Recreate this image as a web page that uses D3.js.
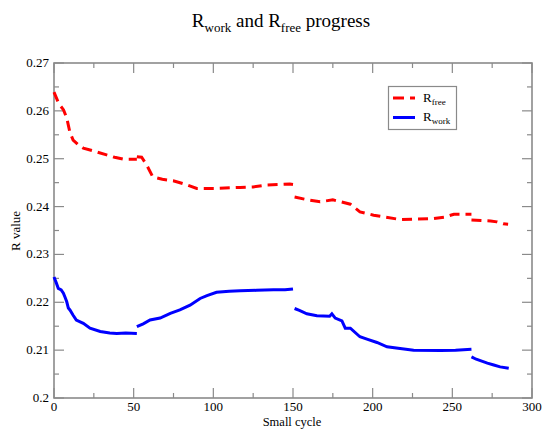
<!DOCTYPE html>
<html><head><meta charset="utf-8">
<script src="https://cdn.jsdelivr.net/npm/d3@7"></script>
<style>body{margin:0;background:#fff}svg{display:block}text{font-family:"Liberation Serif","DejaVu Serif",serif}</style>
</head><body><svg id="c" width="547" height="431"></svg>
<script>
// R_free segments: [cycle, value]
const rfreeSeg1 = [[0,0.2639],[3,0.2615],[6,0.2602],[8,0.2585],[10,0.2555],[12,0.2539],[15,0.2530],[18.4,0.2522],[25,0.2516],[33,0.2508],[38,0.2503],[43.5,0.2499],[52,0.2499]];
const rfreeSeg2 = [[52,0.2504],[55,0.2503],[58,0.2488],[62,0.2462],[68,0.2457],[74.8,0.2454],[82,0.2447],[89.6,0.2438],[102,0.2438],[116.8,0.2440],[125,0.2441],[133.6,0.2445],[148,0.2447],[150,0.2446]];
const rfreeSeg3 = [[151,0.2420],[158,0.2415],[167,0.2410],[175,0.2414],[180,0.2410],[186,0.2405],[192,0.2389],[200.6,0.2382],[208,0.2378],[217,0.2373],[228,0.2374],[238,0.2375],[245,0.2378],[251,0.2384],[262,0.2384]];
const rfreeSeg4 = [[262,0.2372],[268,0.2371],[274,0.2370],[278,0.2368],[282,0.2364],[285,0.2363]];
// R_work segments
const rworkSeg1 = [[0,0.2253],[1.5,0.2240],[2.7,0.2229],[4.5,0.2226],[5.9,0.2219],[7,0.2210],[8,0.2201],[9,0.2188],[10,0.2184],[12,0.2173],[14,0.2163],[18.4,0.2156],[22.6,0.2146],[29,0.2139],[35,0.2136],[39.4,0.2135],[45,0.2136],[52,0.2135]];
const rworkSeg2 = [[52,0.2149],[56,0.2155],[60.3,0.2163],[66.6,0.2167],[73,0.2177],[79,0.2184],[85.4,0.2194],[91.7,0.2208],[96,0.2214],[102,0.2221],[110,0.2223],[116.8,0.2224],[127,0.2225],[137.7,0.2226],[145,0.2226],[150,0.2228]];
const rworkSeg3 = [[151,0.2187],[154,0.2183],[158.7,0.2176],[165,0.2172],[173,0.2171],[174.4,0.2176],[176.5,0.2167],[180.7,0.2161],[182.8,0.2146],[186,0.2146],[192,0.2128],[196.4,0.2123],[202.7,0.2116],[209,0.2107],[216,0.2104],[225.7,0.2100],[242.5,0.2099],[252,0.2100],[262,0.2102]];
const rworkSeg4 = [[262,0.2086],[265,0.2081],[267.6,0.2078],[272,0.2073],[276,0.2069],[280,0.2065],[285.4,0.2062]];
const xTicks = [0,50,100,150,200,250,300];
const xMinorTicks = [25,75,125,175,225,275];
const yTicks = [0.2,0.21,0.22,0.23,0.24,0.25,0.26,0.27];
const yTickLabels = ["0.2","0.21","0.22","0.23","0.24","0.25","0.26","0.27"];
const yMinorTicks = [0.205,0.215,0.225,0.235,0.245,0.255,0.265];

const svg = d3.select("#c");
const L=54,R=532,T=63,B=398;
const x = d3.scaleLinear().domain([0,300]).range([L,R]);
const y = d3.scaleLinear().domain([0.2,0.27]).range([B,T]);
const gray="#8a8a8a";

// ticks (inward) on all four sides
const tk = svg.append("g").attr("stroke",gray).attr("stroke-width",1.2);
xTicks.forEach(v=>{
  tk.append("line").attr("x1",x(v)).attr("x2",x(v)).attr("y1",B).attr("y2",B-10);
  tk.append("line").attr("x1",x(v)).attr("x2",x(v)).attr("y1",T).attr("y2",T+10);
});
xMinorTicks.forEach(v=>{
  tk.append("line").attr("x1",x(v)).attr("x2",x(v)).attr("y1",B).attr("y2",B-5);
  tk.append("line").attr("x1",x(v)).attr("x2",x(v)).attr("y1",T).attr("y2",T+5);
});
yTicks.forEach(v=>{
  tk.append("line").attr("y1",y(v)).attr("y2",y(v)).attr("x1",L).attr("x2",L+10);
  tk.append("line").attr("y1",y(v)).attr("y2",y(v)).attr("x1",R).attr("x2",R-10);
});
yMinorTicks.forEach(v=>{
  tk.append("line").attr("y1",y(v)).attr("y2",y(v)).attr("x1",L).attr("x2",L+5);
  tk.append("line").attr("y1",y(v)).attr("y2",y(v)).attr("x1",R).attr("x2",R-5);
});
svg.append("rect").attr("x",L).attr("y",T).attr("width",R-L).attr("height",B-T)
  .attr("fill","none").attr("stroke",gray).attr("stroke-width",1.6);

// tick labels
xTicks.forEach(v=>{
  svg.append("text").attr("x",x(v)).attr("y",B+13).attr("text-anchor","middle")
    .attr("font-size",13).text(v);
});
yTicks.forEach((v,i)=>{
  svg.append("text").attr("x",L-5).attr("y",y(v)+4).attr("text-anchor","end")
    .attr("font-size",13).text(yTickLabels[i]);
});

// axis titles
svg.append("text").attr("x",292).attr("y",426).attr("text-anchor","middle").attr("font-size",12.5).text("Small cycle");
svg.append("text").attr("transform","translate(20,231) rotate(-90)").attr("text-anchor","middle").attr("font-size",13).text("R value");

// title
const tt = svg.append("text").attr("x",281).attr("y",27).attr("text-anchor","middle").attr("font-size",19);
tt.append("tspan").text("R");
tt.append("tspan").attr("font-size",13).attr("dy",5).text("work");
tt.append("tspan").attr("dy",-5).text(" and R");
tt.append("tspan").attr("font-size",13).attr("dy",5).text("free");
tt.append("tspan").attr("dy",-5).text(" progress");

// lines
const line = d3.line().x(d=>x(d[0])).y(d=>y(d[1]));
const g = svg.append("g");
[rfreeSeg1,rfreeSeg2,rfreeSeg3,rfreeSeg4].forEach(s=>{
  g.append("path").attr("d",line(s)).attr("fill","none").attr("stroke","#ff0000")
   .attr("stroke-width",3).attr("stroke-dasharray","10,6");
});
[rworkSeg1,rworkSeg2,rworkSeg3,rworkSeg4].forEach(s=>{
  g.append("path").attr("d",line(s)).attr("fill","none").attr("stroke","#0000ff")
   .attr("stroke-width",3);
});

// legend
const lg = svg.append("g");
lg.append("rect").attr("x",388.5).attr("y",86.5).attr("width",68).attr("height",43)
  .attr("fill","#fff").attr("stroke",gray).attr("stroke-width",1.2);
lg.append("line").attr("x1",393).attr("x2",415).attr("y1",98).attr("y2",98)
  .attr("stroke","#ff0000").attr("stroke-width",3).attr("stroke-dasharray","11,6");
lg.append("line").attr("x1",393).attr("x2",415).attr("y1",117.5).attr("y2",117.5)
  .attr("stroke","#0000ff").attr("stroke-width",3);
const l1 = lg.append("text").attr("x",423).attr("y",102).attr("font-size",13);
l1.append("tspan").text("R");
l1.append("tspan").attr("font-size",9).attr("dy",3).text("free");
const l2 = lg.append("text").attr("x",423).attr("y",121).attr("font-size",13);
l2.append("tspan").text("R");
l2.append("tspan").attr("font-size",9).attr("dy",3).text("work");
</script></body></html>
